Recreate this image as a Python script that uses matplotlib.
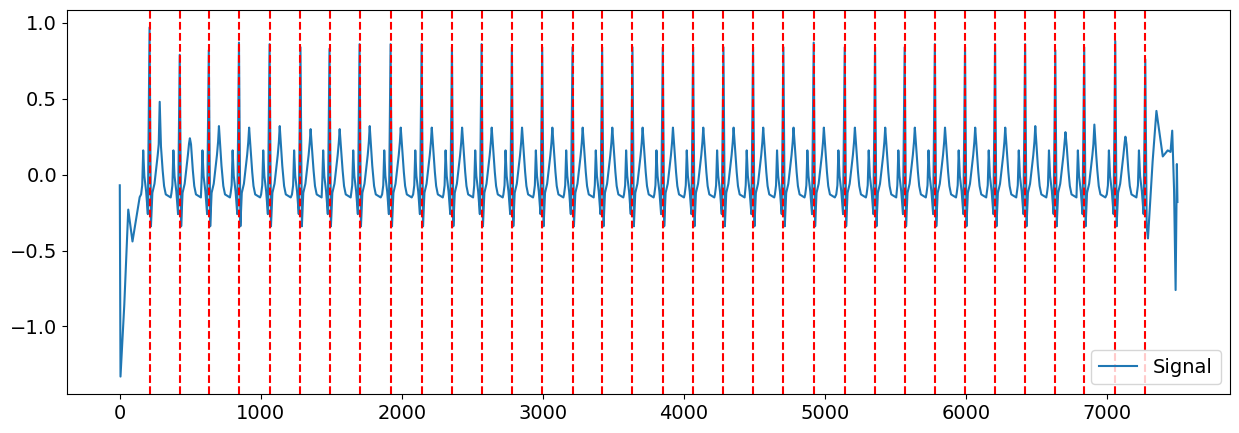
import numpy as np
import matplotlib
matplotlib.use("Agg")
import matplotlib.pyplot as plt

plt.rcParams['font.size'] = 14

# R-peak sample positions (red dashed lines)
peaks = [211, 425, 631, 845, 1062, 1281, 1487, 1700, 1920, 2140, 2355, 2565,
         2780, 2995, 3210, 3420, 3635, 3850, 4065, 4280, 4490, 4705, 4920,
         5140, 5355, 5565, 5779, 5993, 6206, 6419, 6633, 6838, 7058, 7271]
peak_heights = [0.97, 0.79, 0.82, 0.87, 0.86, 0.84, 0.83, 0.86, 0.86, 0.86,
                0.84, 0.86, 0.84, 0.84, 0.84, 0.84, 0.84, 0.84, 0.84, 0.84,
                0.84, 0.84, 0.87, 0.84, 0.84, 0.84, 0.86, 0.84, 0.86, 0.86,
                0.82, 0.84, 0.88, 0.76]
t_heights = [0.48, 0.24, 0.32, 0.31, 0.32, 0.30, 0.30, 0.32, 0.31, 0.31,
             0.31, 0.31, 0.31, 0.31, 0.31, 0.31, 0.31, 0.31, 0.31, 0.31,
             0.31, 0.31, 0.31, 0.31, 0.31, 0.31, 0.31, 0.31, 0.31, 0.32,
             0.28, 0.33, 0.25, 0.42]

# one beat: (offset from R peak, value); 'R'/'T' = per-beat height
beat_offsets = [-80, -60, -52, -45, -38, -25, -12, 0, 10, 20, 35, 55, 65, 72,
                80, 90, 102, 115, 150]
beat_values = [-0.15, -0.13, -0.07, 0.16, 0.0, -0.1, -0.26, 'R', -0.34, -0.12,
               -0.06, 0.1, 0.2, 'T', 0.2, 0.06, -0.07, -0.13, -0.15]

start_x = [0, 5, 30, 60, 90, 140]
start_y = [-0.07, -1.33, -0.9, -0.23, -0.44, -0.15]
end_x = [7290, 7320, 7350, 7395, 7430, 7450, 7462, 7475, 7486, 7495, 7499]
end_y = [-0.42, 0.05, 0.42, 0.12, 0.16, 0.15, 0.29, -0.1, -0.76, 0.07, -0.18]

kx, ky = list(start_x), list(start_y)
for i, (p, h, th) in enumerate(zip(peaks, peak_heights, t_heights)):
    for off, v in zip(beat_offsets, beat_values):
        if i == len(peaks) - 1 and off > 10:
            break
        x = p + off
        if x <= kx[-1]:
            continue
        if v == 'R':
            v = h
        elif v == 'T':
            v = th
        kx.append(x)
        ky.append(v)
kx += end_x
ky += end_y

n = np.arange(7500)
signal = np.interp(n, kx, ky)

fig, ax = plt.subplots(figsize=(12.39, 4.33), dpi=100)
ax.plot(n, signal, label='Signal')
for p in peaks:
    ax.axvline(p, color='red', linestyle='--')
ax.legend(loc='lower right')
plt.subplots_adjust(left=0.054, right=0.993, top=0.977, bottom=0.09)
fig.savefig("out.png")
